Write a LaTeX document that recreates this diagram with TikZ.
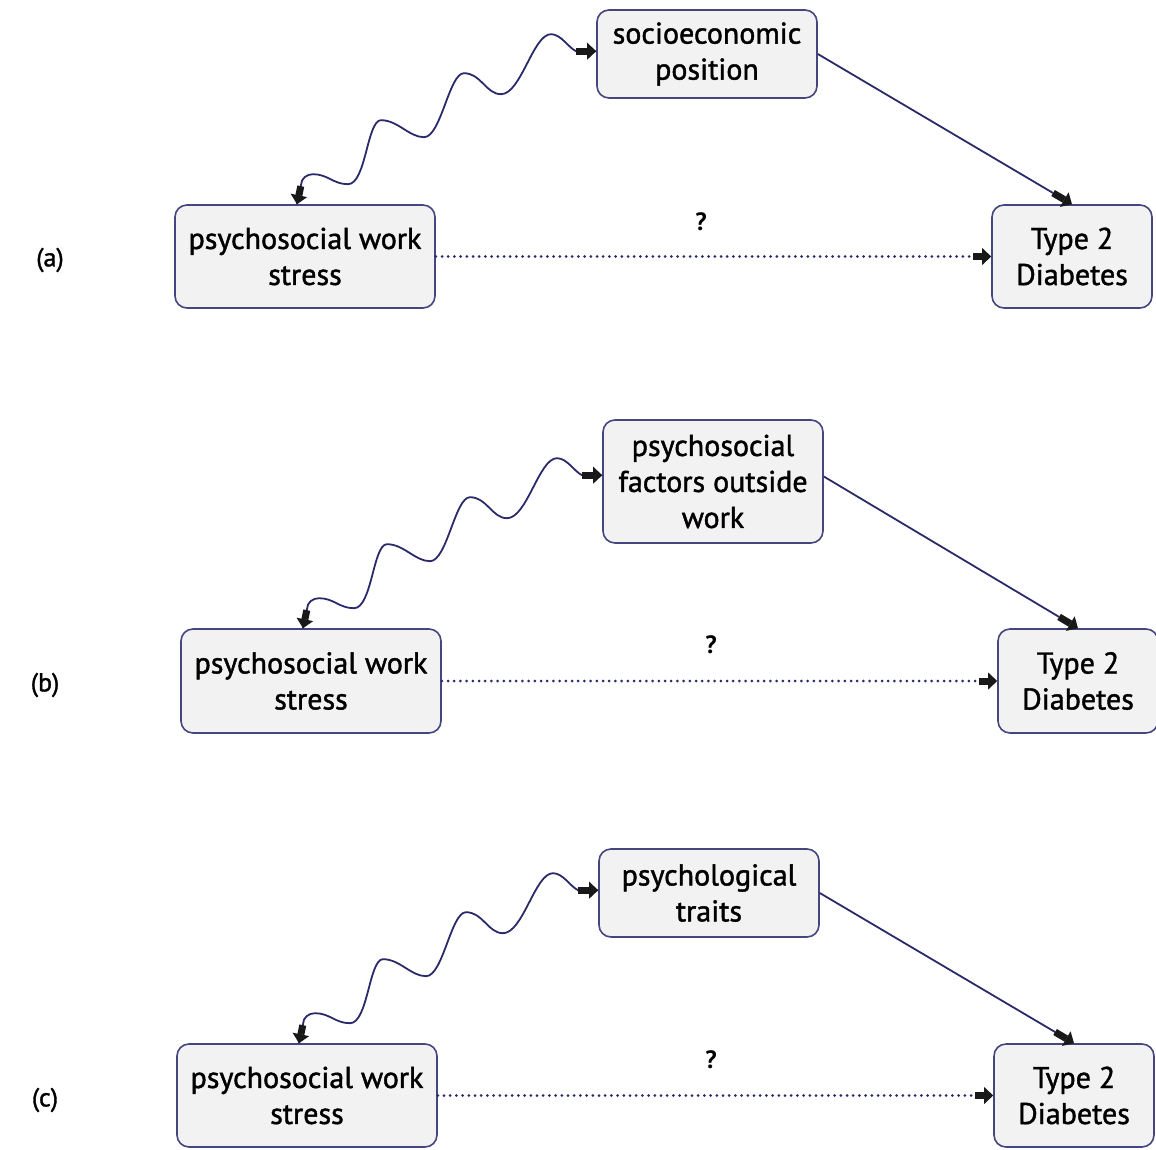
\documentclass[tikz,border=0pt]{standalone}
\usepackage{fontspec}
\setmainfont{PT Sans}
\newfontfamily\boxfont{PT Sans}[FakeBold=1.4]
\usetikzlibrary{arrows.meta,calc}
\definecolor{navy}{HTML}{2A2A6A}
\definecolor{boxfill}{HTML}{F2F2F2}
\definecolor{boxline}{HTML}{45457F}
\tikzset{
  box/.style={draw=boxline, fill=boxfill, line width=1.6pt, rounded corners=12pt,
    align=center, inner sep=0pt, font=\boxfont\fontsize{30}{36}\selectfont},
  conn/.style={draw=navy, line width=1.8pt},
  dotconn/.style={draw=navy, line width=3pt, dash pattern=on 0pt off 6.2pt, line cap=round},
  blockarrow/.style={draw=black!90, line width=7pt,
    -{Triangle[length=9pt,width=17pt,line width=0pt]}},
  lbl/.style={font=\boxfont\fontsize{26}{30}\selectfont, inner sep=0pt},
  qm/.style={font=\bfseries\fontsize{25}{28}\selectfont, inner sep=0pt},
}
\newcommand{\wavyconn}[3]{%
  % #1 source box (bottom), #2 target box (top), #3 id
  \coordinate (ws#3) at ($(#1.north)+(-8,0)$);
  \draw[conn] (ws#3) -- ++(4,-19) coordinate (wa#3)
    .. controls +(0,-7) and +(-6,0) .. ++(12,-11)
    .. controls +(15,0) and +(-15,0) .. ++(35,10)
    .. controls +(18,0) and +(-14,0) .. ++(33,-64)
    .. controls +(17,0) and +(-15,0) .. ++(43,17)
    .. controls +(17,0) and +(-15,0) .. ++(40,-64)
    .. controls +(17,0) and +(-15,0) .. ++(37,21)
    .. controls +(20,0) and +(-18,0) .. ++(50,-60)
    .. controls +(10,0) and +(-8,-4) .. ++(25,17) coordinate (we#3)
    -- (we#3 -| #2.west) coordinate (wt#3);
  \draw[blockarrow] ($(wa#3)!0.05!(ws#3)$) -- (ws#3);
  \draw[blockarrow] (we#3) -- (wt#3);
}
\begin{document}
\begin{tikzpicture}[x=1pt,y=-1pt]
\useasboundingbox (0,0) rectangle (1156,1150);

% ---------- panel (a)
\node[box, minimum width=220pt, minimum height=88pt] (socA) at (707,54) {socioeconomic\\position};
\node[box, minimum width=260pt, minimum height=103pt] (psyA) at (305,256.5) {psychosocial work\\stress};
\node[box, minimum width=160pt, minimum height=103pt] (t2A) at (1072,256.5) {Type 2\\Diabetes};
\node[lbl] (labA) at (50,260) {(a)};
\node[qm] (qA) at (701,222) {?};
\draw[dotconn] (psyA.east) -- ($(t2A.west)+(-18,0)$) coordinate (dA);
\draw[blockarrow] (dA) -- (t2A.west);
\draw[conn] (socA.east) -- ($(t2A.north)!22pt!(socA.east)$) coordinate (sA);
\draw[blockarrow] (sA) -- (t2A.north);
\wavyconn{psyA}{socA}{A}

% ---------- panel (b)
\node[box, minimum width=220pt, minimum height=123pt] (facB) at (713,481.5) {psychosocial\\factors outside\\work};
\node[box, minimum width=260pt, minimum height=104pt] (psyB) at (311,681) {psychosocial work\\stress};
\node[box, minimum width=160pt, minimum height=104pt] (t2B) at (1078,681) {Type 2\\Diabetes};
\node[lbl] (labB) at (45,685) {(b)};
\node[qm] (qB) at (711,645) {?};
\draw[dotconn] (psyB.east) -- ($(t2B.west)+(-18,0)$) coordinate (dB);
\draw[blockarrow] (dB) -- (t2B.west);
\draw[conn] ($(facB.east)+(0,-5)$) coordinate (fB) -- ($(t2B.north)!22pt!(fB)$) coordinate (sB);
\draw[blockarrow] (sB) -- (t2B.north);
\wavyconn{psyB}{facB}{B}

% ---------- panel (c)
\node[box, minimum width=220pt, minimum height=88pt] (trC) at (709,893) {psychological\\traits};
\node[box, minimum width=260pt, minimum height=103pt] (psyC) at (307,1095.5) {psychosocial work\\stress};
\node[box, minimum width=160pt, minimum height=103pt] (t2C) at (1074,1095.5) {Type 2\\Diabetes};
\node[lbl] (labC) at (45,1100) {(c)};
\node[qm] (qC) at (711,1060) {?};
\draw[dotconn] (psyC.east) -- ($(t2C.west)+(-18,0)$) coordinate (dC);
\draw[blockarrow] (dC) -- (t2C.west);
\draw[conn] (trC.east) -- ($(t2C.north)!22pt!(trC.east)$) coordinate (sC);
\draw[blockarrow] (sC) -- (t2C.north);
\wavyconn{psyC}{trC}{C}
\end{tikzpicture}
\end{document}
